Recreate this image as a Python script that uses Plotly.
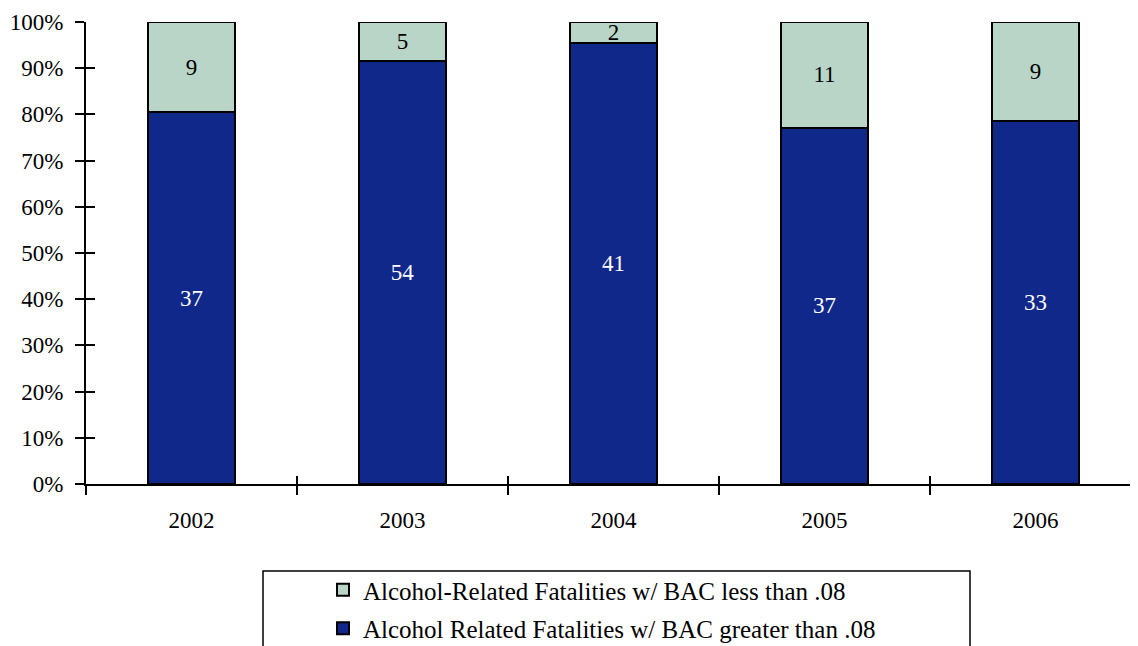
import plotly.graph_objects as go

years = ["2002", "2003", "2004", "2005", "2006"]
above_08 = [37, 54, 41, 37, 33]
below_08 = [9, 5, 2, 11, 9]
name_above = "Alcohol Related Fatalities w/ BAC greater than .08"
name_below = "Alcohol-Related Fatalities w/ BAC less than .08"
y_ticks = [0, 10, 20, 30, 40, 50, 60, 70, 80, 90, 100]
y_labels = [f"{v}%" for v in y_ticks]

FONT = "Liberation Serif"
FS = 23
LFS = 25
OFF = 8  # page body margin
W, H = 1138 - OFF, 646 - OFF
ML, MR, MT = 86 - OFF, 0, 22 - OFF
MB = H - (484 - OFF)
pw, ph = W - ML - MR, H - MT - MB
xr = [-0.5, -0.5 + pw / 211.0]

def px_x(p):
    return (p - OFF - ML) / pw

def px_y(p):
    return (H - MB - (p - OFF)) / ph

fig = go.Figure()
fig.add_trace(go.Bar(
    x=years, y=above_08, name=name_above, text=above_08,
    textposition="inside", insidetextanchor="middle", constraintext="none",
    textangle=0,
    textfont=dict(family=FONT, size=FS, color="white"),
    marker=dict(color="#10288A", line=dict(color="black", width=2)),
    legendgroup="a", legendrank=2, hoverinfo="skip",
))
fig.add_trace(go.Bar(
    x=years, y=below_08, name=name_below, text=below_08,
    textposition="inside", insidetextanchor="middle", constraintext="none",
    textangle=0,
    textfont=dict(family=FONT, size=FS, color="black"),
    marker=dict(color="#B9D5C8", line=dict(color="black", width=2)),
    legendgroup="b", legendrank=1, hoverinfo="skip",
))
# empty helper trace so the overlay tick axes (ticks crossing the axis lines) get drawn
fig.add_trace(go.Scatter(
    x=[None], y=[None], xaxis="x2", yaxis="y2", mode="markers",
    showlegend=False, hoverinfo="skip",
))

fig.update_layout(
    width=W, height=H,
    margin=dict(l=ML, r=MR, t=MT, b=MB, autoexpand=False),
    barmode="stack", barnorm="percent", bargap=0.59,
    plot_bgcolor="white", paper_bgcolor="white",
    font=dict(family=FONT, size=FS, color="black"),
    uniformtext=dict(minsize=FS, mode="show"),
    xaxis=dict(
        type="category", range=xr,
        showline=True, linecolor="black", linewidth=2, automargin=False,
        ticks="outside", tickson="boundaries", ticklen=9,
        tickcolor="black", tickwidth=2, showgrid=False,
        ticklabelstandoff=14,
        tickfont=dict(family=FONT, size=FS),
    ),
    yaxis=dict(
        range=[0, 100], tickvals=y_ticks, ticktext=y_labels, automargin=False,
        showline=True, linecolor="black", linewidth=2,
        ticks="outside", ticklen=9, tickcolor="black", tickwidth=2,
        showgrid=False, zeroline=False, ticklabelstandoff=7,
        tickfont=dict(family=FONT, size=FS),
    ),
    xaxis2=dict(
        overlaying="x", anchor="y2", range=xr, type="linear",
        tickvals=[0.5, 1.5, 2.5, 3.5], showticklabels=False,
        ticks="inside", ticklen=8, tickcolor="black", tickwidth=2,
        showline=False, showgrid=False, zeroline=False, automargin=False,
    ),
    yaxis2=dict(
        overlaying="y", anchor="x2", side="left", range=[0, 100],
        tickvals=y_ticks, showticklabels=False,
        ticks="inside", ticklen=9, tickcolor="black", tickwidth=2,
        showline=False, showgrid=False, zeroline=False, automargin=False,
    ),
    showlegend=True,
    legend=dict(
        x=px_x(323), y=px_y(567), xanchor="left", yanchor="top",
        traceorder="grouped", tracegroupgap=3,
        bgcolor="rgba(0,0,0,0)", borderwidth=0,
        font=dict(family=FONT, size=LFS),
    ),
    shapes=[dict(
        type="rect", xref="paper", yref="paper",
        x0=px_x(263), x1=px_x(970), y0=px_y(571), y1=px_y(700),
        line=dict(color="black", width=1.5), fillcolor="rgba(0,0,0,0)",
        layer="below",
    )],
)

fig.write_html("out.html")
